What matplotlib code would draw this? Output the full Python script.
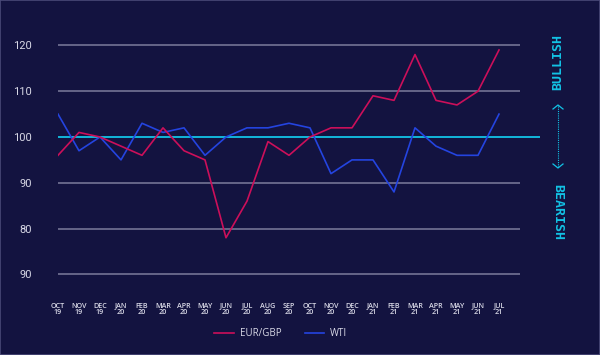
import matplotlib
matplotlib.use("Agg")
from matplotlib import pyplot as plt
from matplotlib.patches import Rectangle

months = ['OCT\n19', 'NOV\n19', 'DEC\n19', 'JAN\n20', 'FEB\n20', 'MAR\n20', 'APR\n20', 'MAY\n20',
          'JUN\n20', 'JUL\n20', 'AUG\n20', 'SEP\n20', 'OCT\n20', 'NOV\n20', 'DEC\n20', 'JAN\n21',
          'FEB\n21', 'MAR\n21', 'APR\n21', 'MAY\n21', 'JUN\n21', 'JUL\n21']
eur_gbp = [96, 101, 100, 98, 96, 102, 97, 95, 78, 86, 99, 96, 100, 102, 102, 109, 108, 118, 108, 107, 110, 119]
wti = [105, 97, 100, 95, 103, 101, 102, 96, 100, 102, 102, 103, 102, 92, 95, 95, 88, 102, 98, 96, 96, 105]
grid_vals = [120, 110, 90, 80, 70]
ytick_vals = [120, 110, 100, 90, 80, 70]
ytick_labels = ['120', '110', '100', '90', '80', '90']

bg = '#131340'
red = '#cc0f5a'
blue = '#2444e0'
cyan = '#12c3e6'
grid_c = '#6c6c8e'
txt = '#d8d8e6'

fig = plt.figure(figsize=(6, 3.55), dpi=100, facecolor=bg)
fig.patches.append(Rectangle((0, 0), 1, 1, transform=fig.transFigure, fill=False,
                             edgecolor='#4a4a78', linewidth=1.2))

ax = fig.add_axes([58 / 600, 1 - 290 / 355, 482 / 600, 270 / 355])
ax.set_facecolor(bg)
x = list(range(len(months)))
ax.set_xlim(0, 482 / 21)
ax.set_ylim(100 - 153 / 4.58, 100 + 117 / 4.58)

ax.hlines(grid_vals, 0, 22, color=grid_c, linewidth=1.3, zorder=1)
ax.hlines(100, 0, 482 / 21, color=cyan, linewidth=1.3, zorder=1)

ax.plot(x, eur_gbp, color=red, linewidth=1.2, label='EUR/GBP', zorder=3)
ax.plot(x, wti, color=blue, linewidth=1.2, label='WTI', zorder=2)

for s in ax.spines.values():
    s.set_visible(False)
ax.set_yticks(ytick_vals)
ax.set_yticklabels(ytick_labels, fontsize=8, color=txt, family='Roboto')
ax.set_xticks(x)
ax.set_xticklabels(months, fontsize=5.2, color=txt, family='Open Sans', fontweight='semibold',
                   linespacing=1.0)
ax.tick_params(axis='y', length=0, pad=19)
ax.tick_params(axis='x', length=0, pad=9)

leg = fig.legend(loc='center', bbox_to_anchor=(0.468, 1 - 334 / 355), ncol=2, frameon=False,
                 handlelength=2.0, columnspacing=2.4, handletextpad=0.6,
                 prop={'family': 'Open Sans', 'size': 7})
for t in leg.get_texts():
    t.set_color(txt)

# bullish / bearish indicator on the right
fig.text(558 / 600, 1 - 62 / 355, 'BULLISH', rotation=90, color=cyan, fontsize=9.5,
         family='DejaVu Sans Mono', fontweight='bold', ha='center', va='center')
fig.text(558 / 600, 1 - 212 / 355, 'BEARISH', rotation=270, color=cyan, fontsize=9.5,
         family='DejaVu Sans Mono', fontweight='bold', ha='center', va='center')
fig.add_artist(plt.Line2D([558 / 600, 558 / 600], [1 - 106 / 355, 1 - 167 / 355],
                          color=cyan, linewidth=0.8, linestyle=(0, (1, 1))))
fig.add_artist(plt.Line2D([553 / 600, 558 / 600, 563 / 600], [1 - 109 / 355, 1 - 105 / 355, 1 - 109 / 355],
                          color=cyan, linewidth=0.9))
fig.add_artist(plt.Line2D([553 / 600, 558 / 600, 563 / 600], [1 - 164 / 355, 1 - 168 / 355, 1 - 164 / 355],
                          color=cyan, linewidth=0.9))

fig.savefig('out.png', dpi=100, facecolor=bg)
